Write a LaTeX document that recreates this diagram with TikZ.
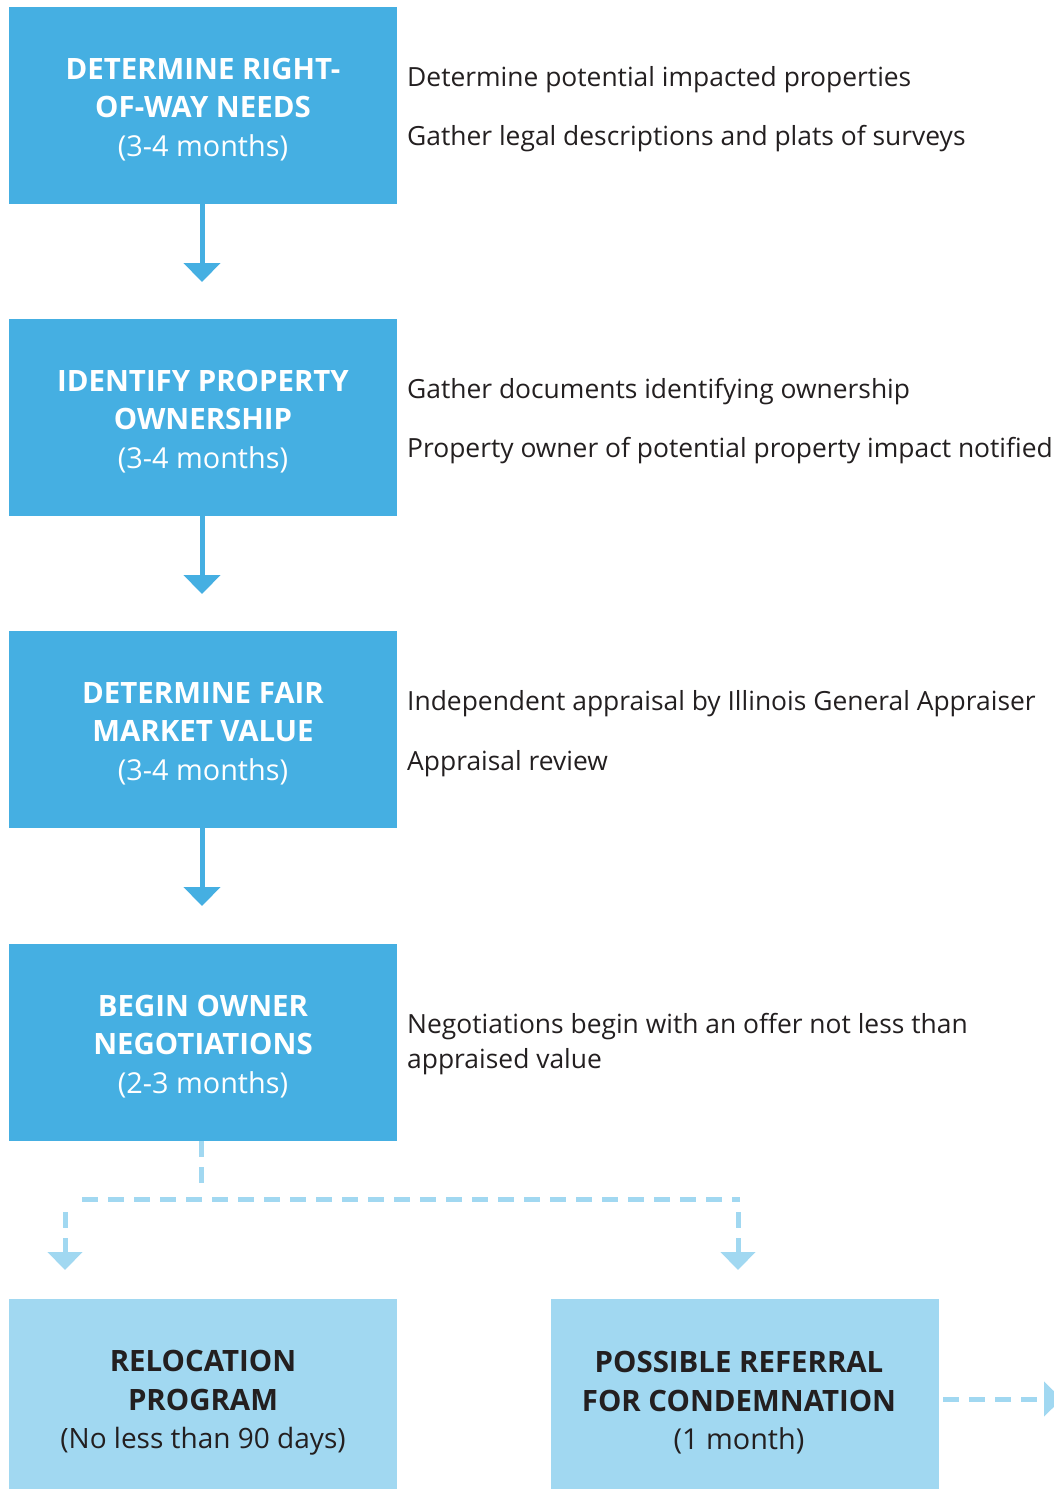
\documentclass[tikz,border=0pt]{standalone}
\usepackage{fontspec}
\setmainfont{Open Sans}
\usetikzlibrary{arrows.meta}
\definecolor{dblue}{HTML}{45AFE2}
\definecolor{lblue}{HTML}{A1D8F1}
\definecolor{ink}{HTML}{231F20}
\newcommand{\hd}[1]{{\fontsize{29.4}{38.5}\selectfont\bfseries #1}}
\begin{document}
\begin{tikzpicture}[x=1pt,y=-1pt,
  stepbox/.style={fill=dblue, draw=none, minimum width=388pt, minimum height=197pt, inner sep=0pt},
  endbox/.style={fill=lblue, draw=none, minimum width=388pt, minimum height=200pt, inner sep=0pt},
  steptext/.style={inner sep=0pt, text=white, align=center, font=\fontsize{28.8}{38.5}\selectfont},
  endtext/.style={steptext, text=ink},
  note/.style={anchor=west, inner sep=0pt, text=ink, align=left, font=\fontsize{26.4}{35}\selectfont},
  solidarrow/.style={draw=dblue, line width=5pt, -{Triangle[width=36pt,length=19pt]}},
  dashline/.style={draw=lblue, line width=5pt, dash pattern=on 16pt off 10pt},
  dasharrow/.style={dashline, -{Triangle[width=34pt,length=18pt]}}
]
\useasboundingbox (0,0) rectangle (1053,1489);

% main steps
\node[stepbox] (b1) at (203,105.5) {};
\node[stepbox] (b2) at (203,417.5) {};
\node[stepbox] (b3) at (203,729.5) {};
\node[stepbox] (b4) at (203,1042.5) {};
\node[steptext] (b1t) at ([yshift=-4pt]b1.center) {\hd{DETERMINE RIGHT-}\\\hd{OF-WAY NEEDS}\\(3-4 months)};
\node[steptext] (b2t) at ([yshift=-4pt]b2.center) {\hd{IDENTIFY PROPERTY}\\\hd{OWNERSHIP}\\(3-4 months)};
\node[steptext] (b3t) at ([yshift=-4pt]b3.center) {\hd{DETERMINE FAIR}\\\hd{MARKET VALUE}\\(3-4 months)};
\node[steptext] (b4t) at ([yshift=-4pt]b4.center) {\hd{BEGIN OWNER}\\\hd{NEGOTIATIONS}\\(2-3 months)};

% end boxes
\node[endbox] (b5) at (203,1399) {};
\node[endbox] (b6) at (745,1399) {};
\node[endtext] (b5t) at ([yshift=-4pt]b5.center) {\hd{RELOCATION}\\\hd{PROGRAM}\\{\fontsize{28}{38.5}\selectfont (No less than 90 days)}};
\node[endtext] (b6t) at ([yshift=-4pt,xshift=-6pt]b6.center) {\hd{POSSIBLE REFERRAL}\\\hd{FOR CONDEMNATION}\\(1 month)};

% notes
\node[note] (n1a) at (407,80) {Determine potential impacted properties};
\node[note] (n1b) at (407,139) {Gather legal descriptions and plats of surveys};
\node[note] (n2a) at (407,392) {Gather documents identifying ownership};
\node[note] (n2b) at (407,451) {Property owner of potential property impact notified};
\node[note] (n3a) at (407,704) {Independent appraisal by Illinois General Appraiser};
\node[note] (n3b) at (407,764) {Appraisal review};
\node[note] (n4) at (407,1044.5) {Negotiations begin with an offer not less than\\appraised value};

% solid arrows
\coordinate (t1) at (202,282);
\coordinate (t2) at (202,594);
\coordinate (t3) at (202,906);
\draw[solidarrow] (b1.south -| t1) -- (t1);
\draw[solidarrow] (b2.south -| t2) -- (t2);
\draw[solidarrow] (b3.south -| t3) -- (t3);

% dashed split
\coordinate (s0) at (201,1183);
\coordinate (hl) at (82,1199);
\coordinate (hr) at (740,1199);
\coordinate (l0) at (65,1212);
\coordinate (l1) at (65,1270);
\coordinate (r0) at (738,1212);
\coordinate (r1) at (738,1270);
\coordinate (e1) at (1062,1399);
\draw[dashline] (b4.south -| s0) -- (s0);
\draw[dashline] (hl) -- (hr);
\draw[dasharrow] (l0) -- (l1);
\draw[dasharrow] (r0) -- (r1);
\draw[dasharrow] ([xshift=4pt]b6.east) -- (e1);
\end{tikzpicture}
\end{document}
